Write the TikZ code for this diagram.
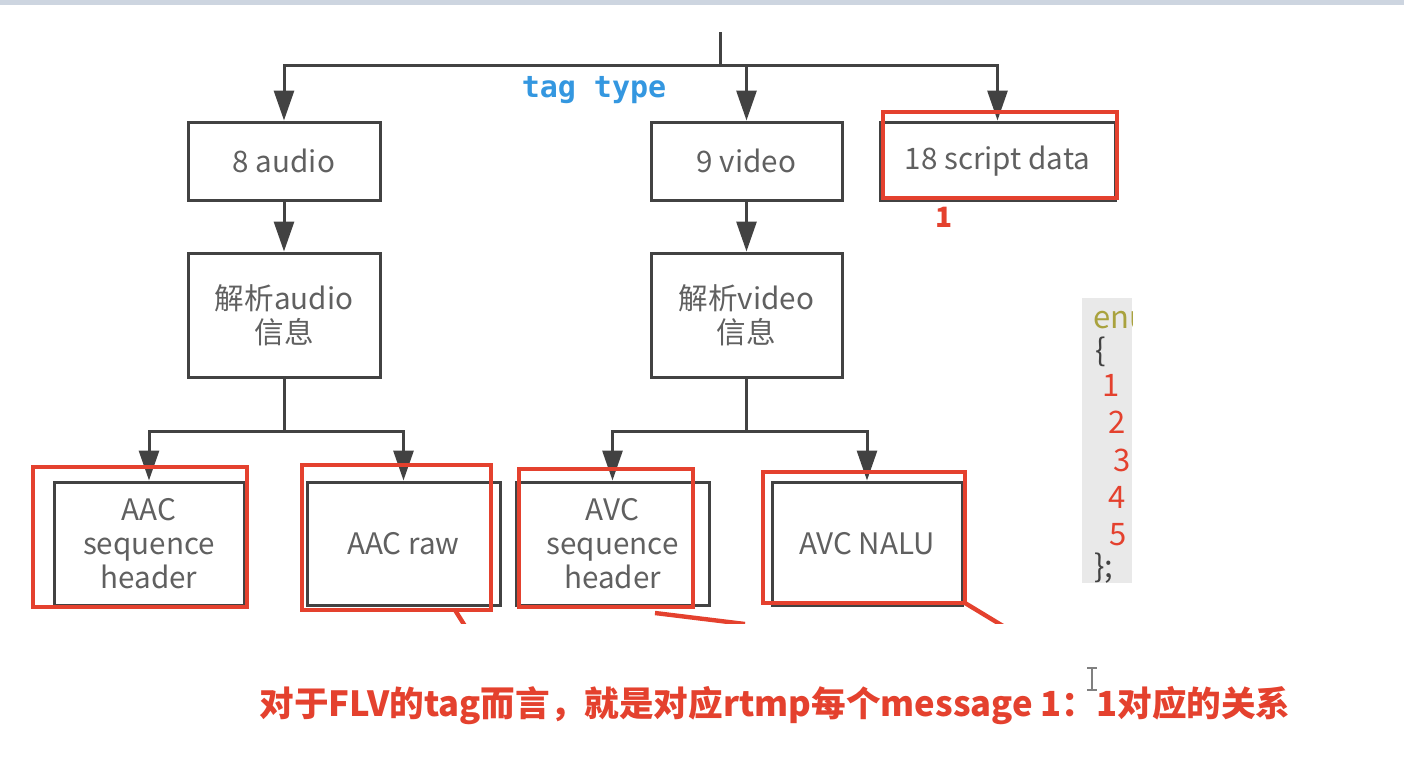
\documentclass[tikz,border=0pt]{standalone}
\usepackage{fontspec}
\setmainfont{Noto Sans CJK SC}
\newfontfamily\codefont{DejaVu Sans Mono}
\usetikzlibrary{arrows.meta,positioning}
\definecolor{linegray}{HTML}{424242}
\definecolor{txtgray}{HTML}{606060}
\definecolor{redmark}{HTML}{E4412E}
\definecolor{tagblue}{HTML}{3497E0}
\definecolor{panelgray}{HTML}{E9E9E9}
\definecolor{kwolive}{HTML}{A9A23E}
\definecolor{topbar}{HTML}{CDD5E0}
\begin{document}
\begin{tikzpicture}[x=0.5pt,y=-0.5pt]
	\tikzset{
		box/.style={draw=linegray,line width=1.5pt,inner sep=0pt,align=center,text=txtgray,font=\fontsize{14.8}{17}\selectfont},
		wire/.style={draw=linegray,line width=1.5pt},
		arr/.style={wire,-{Triangle[width=10pt,length=15pt]}},
		hilite/.style={draw=redmark,line width=2.2pt},
		codetxt/.style={font=\fontsize{15.5}{15.5}\selectfont,inner sep=0pt}
	}
	\useasboundingbox (0,0) rectangle (1404,778);
	\fill[topbar] (0,0) rectangle (1404,5);
	% tag types
	\node[box,minimum width=96pt,minimum height=39pt] (audio) at (284,161) {8 audio};
	\node[box,minimum width=95.5pt,minimum height=39pt] (video) at (746.5,161) {9 video};
	\node[box,minimum width=117.5pt,minimum height=39pt] (script) at (997.5,161) {18 script data};
	\node[box,minimum width=96pt,minimum height=62pt] (aparse) at (284,315) {解析audio\\信息};
	\node[box,minimum width=95.5pt,minimum height=62pt] (vparse) at (746.5,315) {解析video\\信息};
	% packet kinds
	\node[box,minimum width=95pt,minimum height=61.5pt] (aacseq) at (149,543.5) {AAC\\sequence\\header};
	\node[box,minimum width=96.5pt,minimum height=61.5pt] (aacraw) at (403.5,543.5) {AAC raw};
	\node[box,minimum width=96.5pt,minimum height=61.5pt] (avcseq) at (612.5,543.5) {AVC\\sequence\\header};
	\node[box,minimum width=95pt,minimum height=61.5pt] (avcnalu) at (867,543.5) {AVC NALU};
	\path 
	(720,32)coordinate (root)++(0,33)coordinate (hub)
	(aparse.south)++(0,53)coordinate (abus)
	(vparse.south)++(0,53)coordinate (vbus)
	;
	\draw[wire] (root)--(hub) (aparse)--(abus) (vparse)--(vbus);
	\draw[arr] (hub)-|(audio);
	\draw[arr] (hub)-|(video);
	\draw[arr] (hub)-|(script);
	\draw[arr] (audio)--(aparse);
	\draw[arr] (video)--(vparse);
	\draw[arr] (abus)-|(aacseq);
	\draw[arr] (abus)-|(aacraw);
	\draw[arr] (vbus)-|(avcseq);
	\draw[arr] (vbus)-|(avcnalu);
	\node[font=\codefont\bfseries\fontsize{15}{16}\selectfont,text=tagblue] (tagtype) at (594,90) {tag type};
	% red marks
	\draw[hilite] (883,112) rectangle (1117,198)
	(33,467) rectangle (247,607)
	(302,465) rectangle (491,610)
	(519,469) rectangle (693,607)
	(763,472) rectangle (965,603);
	\node[text=redmark,font=\bfseries\fontsize{14}{14}\selectfont] (one) at (944,217) {1};
	\begin{scope}
		\clip (0,0) rectangle (1404,623);
		\draw[hilite] (455,610)--(465,626) (655,613)--(745,624) (965,603)--(1003,626);
	\end{scope}
	% enum panel
	\fill[panelgray] (1082,298) rectangle (1132,583);
	\begin{scope}
		\clip (1082,298) rectangle (1132,583);
		\node[codetxt,anchor=west,text=kwolive] (kw) at (1093,320) {enum};
	\end{scope}
	\node[codetxt,text=linegray] (lbrace) at (1101,352) {\{};
	\node[codetxt,text=redmark] (v1) at (1111,385) {1};
	\node[codetxt,text=redmark] (v2) at (1117,422) {2};
	\node[codetxt,text=redmark] (v3) at (1122,460) {3};
	\node[codetxt,text=redmark] (v4) at (1117,497) {4};
	\node[codetxt,text=redmark] (v5) at (1118,535) {5};
	\node[codetxt,text=linegray,anchor=west] (rbrace) at (1094,568) {\};};
	% note
	\node[text=redmark,font=\bfseries\fontsize{17.3}{18}\selectfont] (note) at (775,706) {对于FLV的tag而言，就是对应rtmp每个message 1：1对应的关系};
	\draw[gray,line width=0.8pt] (1087,668)--(1097,668) (1092,668)--(1092,690) (1087,690)--(1097,690);
\end{tikzpicture}
\end{document}
